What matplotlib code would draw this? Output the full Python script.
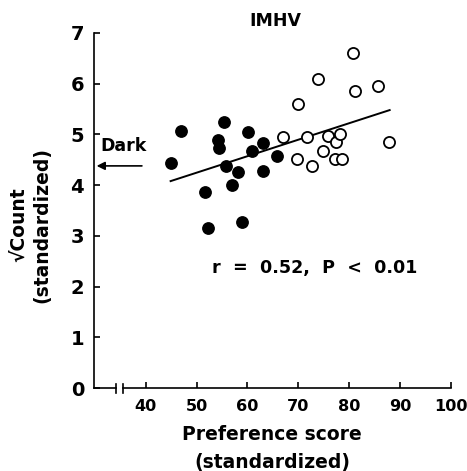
import matplotlib
matplotlib.use("Agg")
import matplotlib.pyplot as plt
import numpy as np

# Data
dark_x = [44.9, 47.0, 55.5, 54.2, 54.5, 60.2, 63.1, 61.0, 65.8, 55.7, 58.1, 63.0, 57.0, 51.7, 59.0, 52.2]
dark_y = [4.44, 5.07, 5.25, 4.89, 4.73, 5.05, 4.84, 4.68, 4.58, 4.38, 4.26, 4.27, 4.00, 3.87, 3.28, 3.16]
open_x = [67.0, 69.9, 69.7, 71.8, 72.7, 73.9, 74.8, 75.9, 77.4, 78.3, 77.2, 78.7, 80.7, 81.2, 85.7, 87.8]
open_y = [4.94, 5.60, 4.51, 4.94, 4.37, 6.10, 4.67, 4.96, 4.85, 5.01, 4.51, 4.51, 6.61, 5.86, 5.96, 4.85]
fit_x = [44.9, 88.0]
fit_y = [4.08, 5.48]
dark_level = 4.38
x_ticks = [40, 50, 60, 70, 80, 90, 100]
y_ticks = [0, 1, 2, 3, 4, 5, 6, 7]
title = "IMHV"
stat_text = "r  =  0.52,  P  <  0.01"

plt.rcParams['font.family'] = ['DejaVu Sans']
fig = plt.figure(figsize=(4.67, 4.71), dpi=100)
ax = fig.add_axes([0.201, 0.176, 0.764, 0.754])

xmin, xmax = 29.8, 100
ax.set_xlim(xmin, xmax)
ax.set_ylim(0, 7)

ax.plot(fit_x, fit_y, color='black', lw=1.4, zorder=2)
ax.plot(dark_x, dark_y, 'o', color='black', ms=8.2, zorder=3)
ax.plot(open_x, open_y, 'o', mfc='white', mec='black', mew=1.3, ms=8.0, zorder=3)

for s in ['top', 'right', 'bottom']:
    ax.spines[s].set_visible(False)
ax.spines['left'].set_linewidth(1.2)

# broken x axis
b1, b2 = 34.2, 35.5
ax.plot([xmin, b1], [0, 0], color='black', lw=1.2, clip_on=False)
ax.plot([b2, xmax], [0, 0], color='black', lw=1.2, clip_on=False)
for b in (b1, b2):
    ax.plot([b, b], [-0.09, 0.09], color='black', lw=1.2, clip_on=False)

ax.set_xticks(x_ticks)
ax.set_yticks(y_ticks)
ax.tick_params(direction='in', length=4, width=1.2)
ax.tick_params(axis='x', labelsize=11.6, pad=8)
ax.tick_params(axis='y', labelsize=14, pad=7)
for lab in ax.get_xticklabels() + ax.get_yticklabels():
    lab.set_fontweight('bold')

ax.set_xlabel("Preference score\n(standardized)", fontsize=13.5, fontweight='bold',
              linespacing=1.55, labelpad=8)
ax.set_ylabel("\u221aCount\n(standardized)", fontsize=13.5, fontweight='bold', linespacing=1.3)
ax.yaxis.set_label_coords(-0.12, 0.46)

ax.set_title(title, fontsize=12.5, fontweight='bold', x=0.51, pad=5)

# Dark arrow
ax.annotate("", xy=(xmin, dark_level), xytext=(39.8, dark_level),
            arrowprops=dict(arrowstyle='-|>', color='black', lw=1.2, mutation_scale=12), annotation_clip=False)
ax.text(31.0, dark_level + 0.22, "Dark", fontsize=12.5, fontweight='bold', ha='left', va='bottom')

ax.text(53.1, 2.37, stat_text, fontsize=12.6, fontweight='bold', ha='left', va='center')

fig.savefig("out.png", dpi=100)
